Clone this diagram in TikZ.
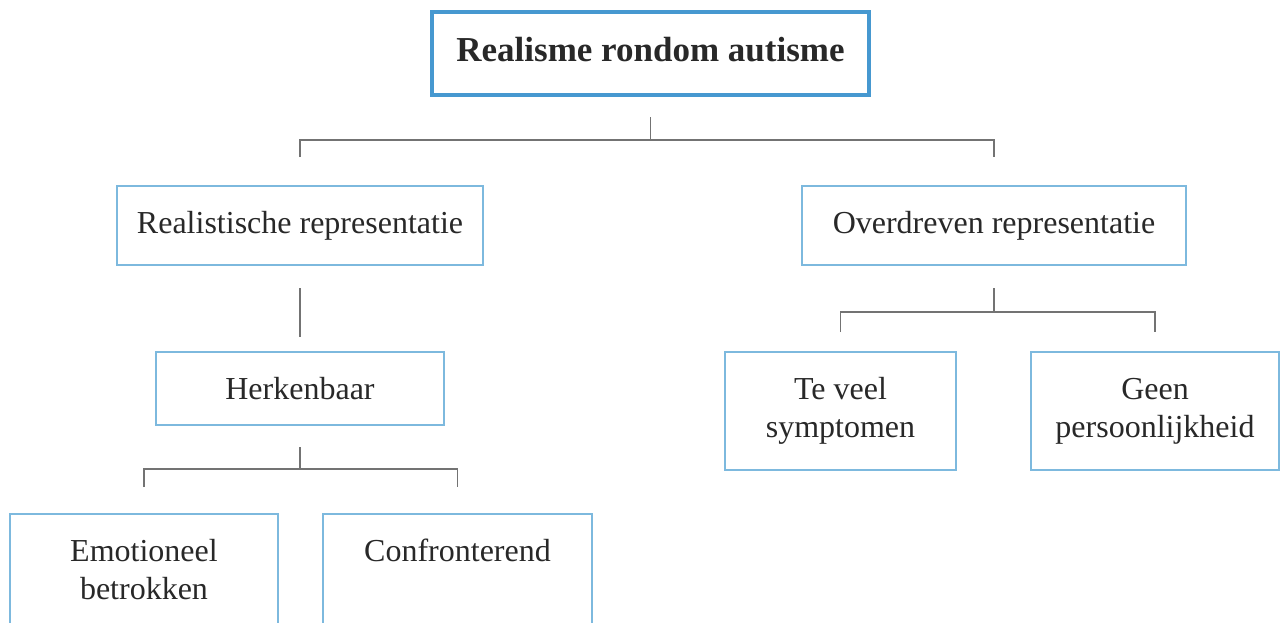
\documentclass[tikz,border=0pt]{standalone}
\usepackage{fontspec}
\setmainfont{Liberation Serif}
\usetikzlibrary{calc}
\definecolor{boxblue}{RGB}{125,185,222}
\definecolor{topblue}{RGB}{70,152,208}
\definecolor{linegray}{RGB}{115,115,115}
\definecolor{txt}{RGB}{40,40,40}
\begin{document}
\begin{tikzpicture}[x=1pt,y=-1pt,
  box/.style={draw=boxblue,line width=2pt,fill=white,align=center,text=txt,
    font=\fontsize{32}{38}\selectfont,inner sep=0pt},
  conn/.style={draw=linegray,line width=1.8pt}]
\useasboundingbox (0,0) rectangle (1281,622);
\node[box,draw=topblue,line width=3.5pt,minimum width=437pt,minimum height=83pt] (top) at (650.5,53.5) {};
\node[text=txt,font=\fontsize{35}{38}\selectfont\bfseries,inner sep=0pt] (toptext) at (650.5,49.5) {Realisme rondom autisme};
\node[box,minimum width=366pt,minimum height=79pt] (rr) at (300,225.5) {Realistische representatie};
\node[box,minimum width=384pt,minimum height=79pt] (ov) at (994,225.5) {Overdreven representatie};
\node[box,minimum width=288pt,minimum height=73pt] (hk) at (300,388.5) {Herkenbaar};
\node[box,minimum width=231pt,minimum height=118pt] (tv) at (840.5,411) {Te veel\\symptomen};
\node[box,minimum width=248pt,minimum height=118pt] (gp) at (1155,411) {Geen\\persoonlijkheid};
\node[box,minimum width=268pt,minimum height=111pt] (em) at (144,569.5) {Emotioneel\\betrokken};
\node[box,minimum width=269pt,minimum height=111pt] (cf) at (457.5,569.5) {Confronterend\\\mbox{}};
% connectors
\coordinate (j1) at ($(top.south)+(0,43)$);
\draw[conn] ($(rr.north)+(0,-28)$) |- (j1) -| ($(ov.north)+(0,-28)$);
\draw[conn] (j1) -- ++(0,-23);
\draw[conn] ($(rr.south)+(0,22)$) -- ($(hk.north)+(0,-14)$);
\coordinate (j3) at ($(hk.south)+(0,43)$);
\draw[conn] ($(em.north)+(0,-26)$) |- (j3) -| ($(cf.north)+(0,-26)$);
\draw[conn] (j3) -- ++(0,-22);
\coordinate (j2) at ($(ov.south)+(0,46)$);
\draw[conn] ($(tv.north)+(0,-19)$) |- (j2) -| ($(gp.north)+(0,-19)$);
\draw[conn] (j2) -- ++(0,-24);
\end{tikzpicture}
\end{document}
